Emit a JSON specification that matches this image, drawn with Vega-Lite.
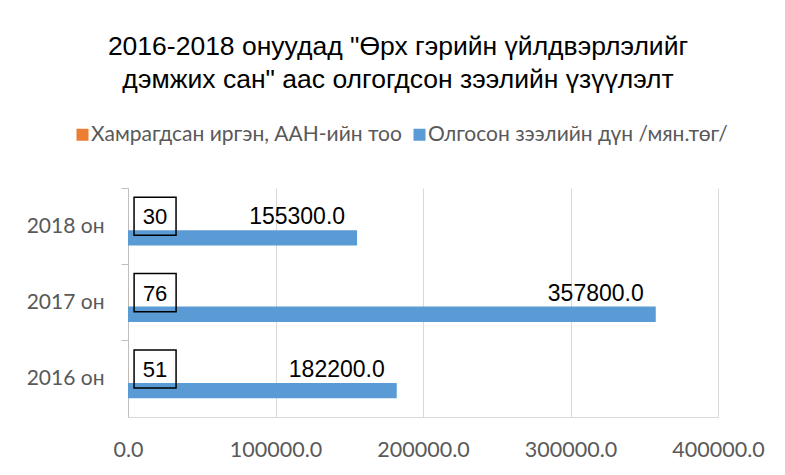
{
  "$schema": "https://vega.github.io/schema/vega-lite/v6.json",
  "width": 590,
  "height": 229,
  "autosize": {"type": "none"},
  "padding": {"left": 128, "top": 188, "right": 67, "bottom": 58},
  "background": "white",
  "title": {
    "text": ["2016-2018 онуудад \"Өрх гэрийн үйлдвэрлэлийг", "дэмжих сан\" аас олгогдсон зээлийн үзүүлэлт"],
    "font": "Liberation Sans",
    "fontSize": 26.5,
    "fontWeight": "normal",
    "color": "#000000",
    "lineHeight": 33,
    "anchor": "middle",
    "frame": "group",
    "dx": -25,
    "offset": 31
  },
  "data": {
    "values": [
      {"year": "2018 он", "series": "Хамрагдсан иргэн, ААН-ийн тоо", "value": 30},
      {"year": "2017 он", "series": "Хамрагдсан иргэн, ААН-ийн тоо", "value": 76},
      {"year": "2016 он", "series": "Хамрагдсан иргэн, ААН-ийн тоо", "value": 51},
      {"year": "2018 он", "series": "Олгосон зээлийн дүн /мян.төг/", "value": 155300},
      {"year": "2017 он", "series": "Олгосон зээлийн дүн /мян.төг/", "value": 357800},
      {"year": "2016 он", "series": "Олгосон зээлийн дүн /мян.төг/", "value": 182200}
    ]
  },
  "config": {
    "view": {"stroke": null},
    "axis": {"labelFont": "Lato", "labelColor": "#595959", "title": null}
  },
  "layer": [
    {
      "mark": {"type": "bar"},
      "encoding": {
        "y": {
          "field": "year", "type": "nominal",
          "sort": ["2018 он", "2017 он", "2016 он"],
          "scale": {"paddingInner": 0.6, "paddingOuter": 0.3, "align": 0.59},
          "axis": {
            "domainColor": "#bfbfbf", "tickColor": "#bfbfbf", "tickSize": 7,
            "labelFontSize": 21, "labelPadding": 17, "grid": false,
            "tickOffset": -42.5, "labelOffset": 38.5
          }
        },
        "yOffset": {
          "field": "series", "type": "nominal",
          "sort": ["Хамрагдсан иргэн, ААН-ийн тоо", "Олгосон зээлийн дүн /мян.төг/"],
          "scale": {"paddingInner": 0, "paddingOuter": 0}
        },
        "x": {
          "field": "value", "type": "quantitative",
          "scale": {"domain": [0, 400000], "nice": false},
          "axis": {
            "values": [0, 100000, 200000, 300000, 400000],
            "format": ".1f", "grid": true, "gridColor": "#d9d9d9",
            "domainColor": "#d9d9d9", "ticks": false, "labelFlush": false,
            "labelFontSize": 21.5, "labelPadding": 22
          }
        },
        "color": {
          "field": "series", "type": "nominal",
          "scale": {
            "domain": ["Хамрагдсан иргэн, ААН-ийн тоо", "Олгосон зээлийн дүн /мян.төг/"],
            "range": ["#ED7D31", "#5B9BD5"]
          },
          "legend": {
            "orient": "none", "legendX": -56, "legendY": -64,
            "direction": "horizontal", "title": null,
            "symbolType": "square", "symbolSize": 144, "symbolStrokeWidth": 0,
            "labelFont": "Lato", "labelFontSize": 21, "labelColor": "#595959",
            "labelLimit": 500, "columnPadding": 7, "labelOffset": -2
          }
        }
      }
    },
    {
      "transform": [{"filter": "datum.series === 'Хамрагдсан иргэн, ААН-ийн тоо'"}],
      "mark": {
        "type": "point",
        "shape": "M-1,-0.905H1V0.905H-1Z",
        "size": 1764, "filled": false, "stroke": "#000000",
        "strokeWidth": 1.5, "opacity": 1, "xOffset": 27, "yOffset": -14
      },
      "encoding": {
        "y": {"field": "year", "type": "nominal", "sort": ["2018 он", "2017 он", "2016 он"]},
        "x": {"field": "value", "type": "quantitative"}
      }
    },
    {
      "transform": [{"filter": "datum.series === 'Хамрагдсан иргэн, ААН-ийн тоо'"}],
      "mark": {
        "type": "text", "font": "Liberation Sans", "fontSize": 22,
        "color": "#000000", "align": "center", "baseline": "middle",
        "xOffset": 27, "yOffset": -13
      },
      "encoding": {
        "y": {"field": "year", "type": "nominal", "sort": ["2018 он", "2017 он", "2016 он"]},
        "x": {"field": "value", "type": "quantitative"},
        "text": {"field": "value", "type": "quantitative", "format": "d"}
      }
    },
    {
      "transform": [{"filter": "datum.series === 'Олгосон зээлийн дүн /мян.төг/'"}],
      "mark": {
        "type": "text", "font": "Liberation Sans", "fontSize": 23,
        "color": "#000000", "align": "right", "baseline": "middle",
        "dx": -12, "yOffset": -13
      },
      "encoding": {
        "y": {"field": "year", "type": "nominal", "sort": ["2018 он", "2017 он", "2016 он"]},
        "x": {"field": "value", "type": "quantitative"},
        "text": {"field": "value", "type": "quantitative", "format": ".1f"}
      }
    }
  ]
}
